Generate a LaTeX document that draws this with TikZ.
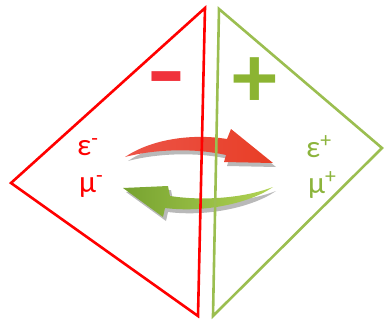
\documentclass[tikz,border=0pt]{standalone}
\usepackage{fontspec}
\setmainfont{Carlito}
\usetikzlibrary{positioning}
\definecolor{elred}{RGB}{255,0,0}
\definecolor{elgreen}{RGB}{155,190,80}
\definecolor{txtgreen}{RGB}{140,180,60}
\definecolor{signred}{RGB}{240,50,60}
\definecolor{signgreen}{RGB}{140,180,50}
\tikzset{
  edge/.style={line width=2.6pt, line join=miter},
  charge/.style={inner sep=0pt, anchor=base west, font=\fontsize{31}{36}\selectfont},
  sign/.style={inner sep=0pt, font=\bfseries\fontsize{90}{100}\selectfont},
  shadow/.style={fill=gray!55, draw=none},
}
\begin{document}
\begin{tikzpicture}[x=1pt,y=-1pt]
  \useasboundingbox (0,0) rectangle (384,322);
  % shadows of the two swooshes
  \begin{scope}[shift={(3,4)}]
    \fill[shadow] (125,157) .. controls (150,140) and (190,133) .. (227,139) -- (231,129) -- (273,163) -- (224,162) -- (226,155) .. controls (195,148) and (155,149) .. (125,157) -- cycle;
    \fill[shadow] (273,187) .. controls (250,196) and (210,202) .. (170,196) -- (168,186) -- (123,188) -- (163,217) -- (165,208) .. controls (205,213) and (250,203) .. (273,187) -- cycle;
  \end{scope}
  % swooshes
  \shade[left color={rgb,255:red,236;green,84;blue,72}, right color={rgb,255:red,232;green,62;blue,38}]
    (125,157) .. controls (150,140) and (190,133) .. (227,139) -- (231,129) -- (273,163) -- (224,162) -- (226,155) .. controls (195,148) and (155,149) .. (125,157) -- cycle;
  \shade[left color={rgb,255:red,118;green,162;blue,48}, right color={rgb,255:red,178;green,212;blue,84}]
    (273,187) .. controls (250,196) and (210,202) .. (170,196) -- (168,186) -- (123,188) -- (163,217) -- (165,208) .. controls (205,213) and (250,203) .. (273,187) -- cycle;
  % the two triangles
  \coordinate (rt) at (205,8);
  \coordinate (rl) at (11,183);
  \coordinate (rb) at (198,316);
  \coordinate (gt) at (219,9);
  \coordinate (gr) at (382,148);
  \coordinate (gb) at (213,316);
  \draw[edge, elred] (rt) -- (rl) -- (rb) -- cycle;
  \draw[edge, elgreen] (gt) -- (gr) -- (gb) -- cycle;
  % signs
  \node[sign, text=signred] (minus) at (166,88) {\scalebox{1.3}[1.05]{-}};
  \node[sign, text=signgreen] (plus) at (255,83) {+};
  % particles
  \node[charge, text=elred] (eminus) at (77,155) {ε\textsuperscript{-}};
  \node[charge, text=elred] (muminus) at (79,192) {μ\textsuperscript{-}};
  \node[charge, text=txtgreen] (eplus) at (306,157) {ε\textsuperscript{+}};
  \node[charge, text=txtgreen] (muplus) at (308,193) {μ\textsuperscript{+}};
\end{tikzpicture}
\end{document}
